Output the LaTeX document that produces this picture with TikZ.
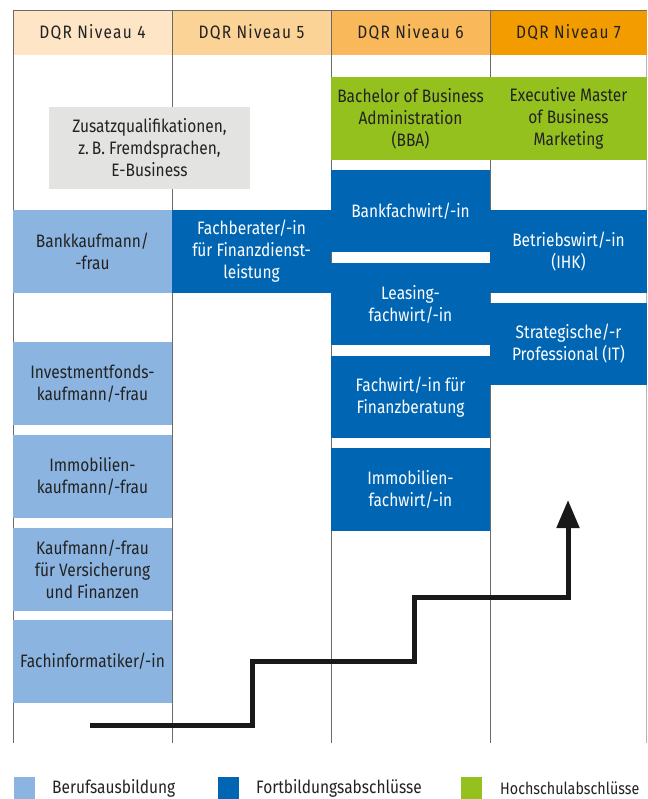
\documentclass[tikz,border=0pt]{standalone}
\usepackage{fontspec}
\setmainfont{Fira Sans}[FakeStretch=0.86]
\usetikzlibrary{arrows.meta}
\definecolor{lblue}{HTML}{8CB4E0}
\definecolor{dblue}{HTML}{0066B3}
\definecolor{lgreen}{HTML}{95C11F}
\definecolor{lgray}{HTML}{E3E3E1}
\definecolor{hfour}{HTML}{FDE5C6}
\definecolor{hfive}{HTML}{FCD396}
\definecolor{hsix}{HTML}{F9B95A}
\definecolor{hseven}{HTML}{F39C00}
\definecolor{txt}{HTML}{222222}
\definecolor{rule}{HTML}{6A6A6A}
\tikzset{
  every node/.style={font=\fontsize{18}{22}\selectfont},
  cell/.style={anchor=north west, inner sep=0pt, outer sep=0pt, align=center, text=txt},
  lbox/.style={cell, fill=lblue, minimum width=159pt, minimum height=83pt},
  dbox/.style={cell, fill=dblue, text=white, minimum width=159pt, minimum height=83pt},
  gbox/.style={cell, fill=lgreen, minimum width=159pt, minimum height=83pt},
  hdr/.style={cell, minimum width=159pt, minimum height=45pt, font=\fontsize{18}{22}\selectfont\addfontfeature{LetterSpace=7}},
  colline/.style={draw=rule, line width=0.8pt},
  stair/.style={line width=5pt, draw=black!90, line join=miter, -{Triangle[width=22pt,length=28pt]}},
  legsq/.style={anchor=north west, inner sep=0pt, minimum width=21pt, minimum height=22pt},
  legtxt/.style={anchor=west, inner sep=0pt, text=txt},
}
\begin{document}
\begin{tikzpicture}[x=1pt,y=1pt]
\useasboundingbox[fill=white] (0,0) rectangle (647,-799);
% header
\node[hdr, fill=hfour] (h4) at (13,-10) {DQR Niveau 4};
\node[hdr, fill=hfive] (h5) at (172,-10) {DQR Niveau 5};
\node[hdr, fill=hsix] (h6) at (331,-10) {DQR Niveau 6};
\node[hdr, fill=hseven, minimum width=157pt] (h7) at (490,-10) {DQR Niveau 7};
% grid lines
\draw[colline] (13,-10) -- (647,-10);
\draw[colline] (13,-10) -- (13,-743);
\draw[colline] (172,-10) -- (172,-743);
\draw[colline] (331,-10) -- (331,-743);
\draw[colline] (490,-10) -- (490,-743);
\draw[draw=rule!50, line width=0.6pt] (646.6,-55) -- (646.6,-743);
% gray box
\node[cell, fill=lgray, minimum width=201pt, minimum height=82pt] (zusatz) at (49,-107)
  {Zusatzqualifikationen,\\z.\,B. Fremdsprachen,\\E-Business};
% green
\node[gbox] (bba) at (331,-77) {Bachelor of Business\\Administration\\(BBA)};
\node[gbox, minimum width=157pt] (emba) at (490,-77) {Executive Master\\of Business\\Marketing};
% column 4
\node[lbox] (bank) at (13,-210) {Bankkaufmann/\\-frau};
\node[lbox] (invest) at (13,-342) {Investmentfonds-\\kaufmann/-frau};
\node[lbox] (immok) at (13,-435) {Immobilien-\\kaufmann/-frau};
\node[lbox] (versich) at (13,-528) {Kaufmann/-frau\\für Versicherung\\und Finanzen};
\node[lbox] (fachinf) at (13,-620) {Fachinformatiker/-in};
% column 5
\node[dbox] (fachber) at (172,-210) {Fachberater/-in\\für Finanzdienst-\\leistung};
% column 6
\node[dbox, minimum height=82pt] (bankfw) at (331,-170) {Bankfachwirt/-in};
\node[dbox, minimum height=82pt] (leasing) at (331,-263) {Leasing-\\fachwirt/-in};
\node[dbox, minimum height=82pt] (finber) at (331,-356) {Fachwirt/-in für\\Finanzberatung};
\node[dbox] (immofw) at (331,-448) {Immobilien-\\fachwirt/-in};
% column 7
\node[dbox, minimum width=157pt] (betrieb) at (490,-210) {Betriebswirt/-in\\(IHK)};
\node[dbox, minimum width=157pt, minimum height=82pt] (strat) at (490,-303) {Strategische/-r\\Professional (IT)};
% staircase
\coordinate (s0) at (90,-725);
\coordinate (s1) at (568,-500);
\draw[stair] (s0) -- (252,-725) -- (252,-661) -- (414,-661) -- (414,-597) -- (568,-597) -- (s1);
% legend
\node[legsq, fill=lblue] (l1) at (14,-777) {};
\node[legtxt] (t1) at (52,-788) {Berufsausbildung};
\node[legsq, fill=dblue] (l2) at (218,-777) {};
\node[legtxt] (t2) at (256,-788) {Fortbildungsabschlüsse};
\node[legsq, fill=lgreen] (l3) at (461,-777) {};
\node[legtxt, font=\fontsize{16.6}{22}\selectfont] (t3) at (500,-788) {Hochschulabschlüsse};
\end{tikzpicture}
\end{document}
